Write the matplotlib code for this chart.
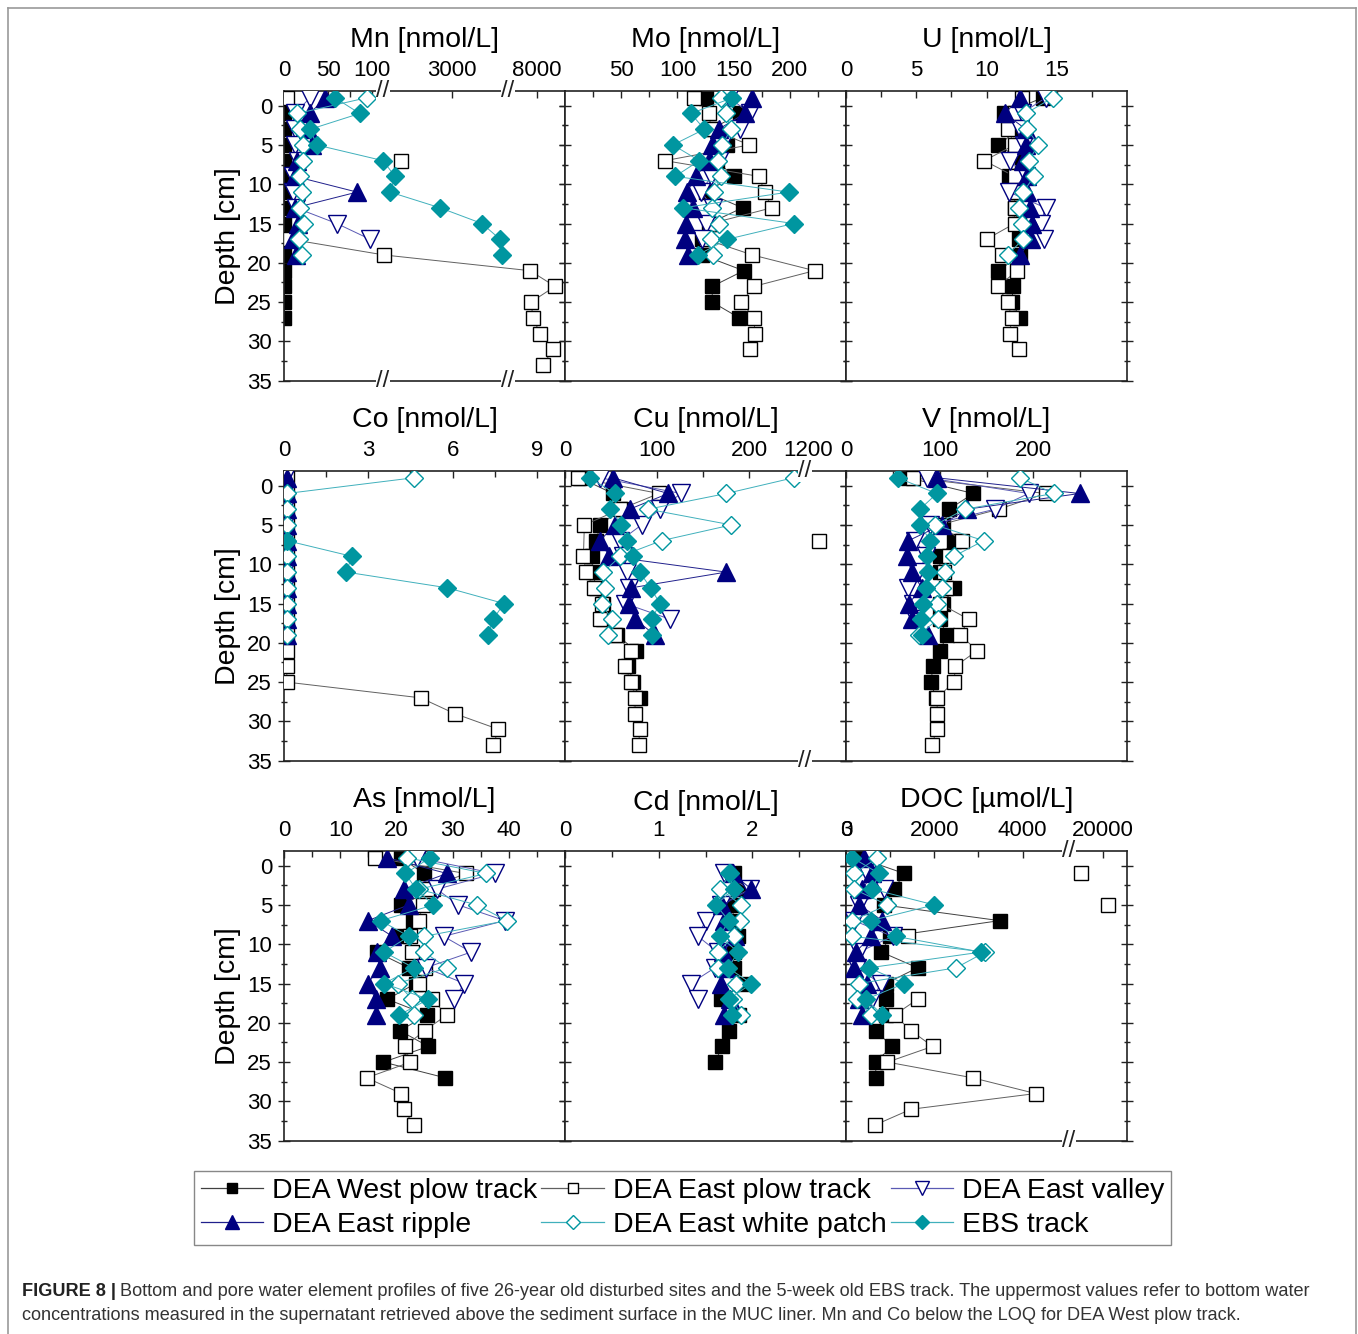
import numpy as np
import matplotlib.pyplot as plt
from matplotlib.lines import Line2D
from matplotlib.ticker import MultipleLocator

nan = np.nan

# sampling depths (cm) of each site, -1 = supernatant bottom water
depth_west = [-1, 1, 3, 5, 7, 9, 11, 13, 15, 17, 19, 21, 23, 25, 27]
depth_east = [-1, 1, 3, 5, 7, 9, 11, 13, 15, 17, 19, 21, 23, 25, 27, 29, 31, 33]
depth_valley = [-1, 1, 3, 5, 7, 9, 11, 13, 15, 17]
depth_ripple = [-1, 1, 3, 5, 7, 9, 11, 13, 15, 17, 19]
depth_white = [-1, 1, 3, 5, 7, 9, 11, 13, 15, 17, 19]
depth_ebs = [-1, 1, 3, 5, 7, 9, 11, 13, 15, 17, 19]

# Mn
mn_west = [0, 0, 0, 0, 0, 0, 0, 0, 0, 0, 0, 0, 0, 0, 0]
mn_east = [3, nan, nan, nan, 1376, nan, nan, nan, nan, 7, 830, 7772, 8649, 7807, 7877, 8123, 8579, 8228]
mn_valley = [29.5, 12.5, 12.5, 12.5, 16, 10, 10, 13.6, 60, 97.7]
mn_ripple = [46.6, 29.5, 27, 31.6, 14.5, 12.5, 83, 12.5, 16, 10, 14]
mn_white = [94, 15, 18, 22, 22, 18, 20, 18, 23, 17, 20]
mn_ebs = [58, 86, 30, 37, 700, 1184, 1024, 2624, 3968, 4544, 4600]

# Mo
mo_west = [125, 156, 130, 144.5, 135, 150, 125, 158, 128, 122, 122, 159, 131, 131, 155]
mo_east = [115, 128, 130, 164, 89, 172.6, 177.6, 184, 130, 125, 166.7, 222, 168, 157, 168, 169, 165, nan]
mo_valley = [146, 165, 156, 140, 137, 130, 121, 132, 125, 122]
mo_ripple = [166.7, 160, 136.6, 131, 128, 116.5, 108.6, 113.6, 107.7, 107, 109]
mo_white = [138.6, 143, 147.5, 140, 135.7, 138.6, 132.7, 131, 137, 129.8, 131.6]
mo_ebs = [149, 112, 124, 96, 119.5, 98, 199, 105, 203.5, 144.5, 118]

# U
u_west = [14, 11.25, 12.3, 10.85, 12.5, 11.6, 12, 12, 12.3, 12.3, 12.4, 10.85, 11.9, 11.8, 12.4]
u_east = [12.5, 12, 11.5, 12, 9.84, 12, 12, 12, 12, 10.0, 11.1, 12.2, 10.8, 11.5, 11.8, 11.65, 12.3, nan]
u_valley = [14.2, 12.5, 12.4, 12.7, 11.7, 12.8, 11.6, 14.2, 13.85, 14.1]
u_ripple = [12.4, 11.3, 12.8, 12.8, 12.6, 12.86, 12.9, 13.1, 13.26, 13.2, 12.4]
u_white = [14.7, 12.8, 12.9, 13.7, 13.0, 13.4, 12.6, 12.3, 12.5, 12.6, 11.5]
u_ebs = [nan] * 11

# Co (DEA West plow track below LOQ)
co_west = [nan] * 15
co_east = [0.1, 0.1, 0.1, 0.1, 0.1, 0.1, 0.1, 0.1, 0.1, 0.1, 0.1, 0.1, 0.1, 0.1, 4.86, 6.07, 7.63, 7.45]
co_valley = [0.05, 0.05, 0.05, 0.05, 0.05, 0.05, 0.05, 0.05, 0.05, 0.05]
co_ripple = [0.1, 0.1, 0.1, 0.1, 0.1, 0.1, 0.1, 0.1, 0.1, 0.1, 0.1]
co_white = [4.62, 0.1, 0.1, 0.1, 0.1, 0.1, 0.1, 0.1, 0.1, 0.1, 0.1]
co_ebs = [nan, nan, nan, nan, 0.1, 2.42, 2.21, 5.81, 7.83, 7.44, 7.26]

# Cu
cu_west = [16, 52, 61, 38, 34, 29, 30, 34, 41.5, 41.5, 56, 77, 68.6, 74, 81]
cu_east = [14, 102, 60, 21, 1227, 20, 23, 31, 40, 38, 54, 72, 65, 72, 76, 76, 81, 80]
cu_valley = [38, 126, 103, 83, 60, 63, 67, 69, 65, 114]
cu_ripple = [52, 112, 70, 54, 38, 48, 175, 72, 69, 76, 97.5]
cu_white = [248, 175, 90, 180.6, 104.7, 60, 41.5, 43, 39.7, 50.6, 47]
cu_ebs = [27, 54, 49, 61, 67, 74, 81, 92.8, 103, 94, 94]

# V
v_west = [66.7, 136, 110, 104, 115, 100.5, 100, 115, 104, 100, 107.7, 100.5, 93, 90.5, 96]
v_east = [71, 213, 163, 100, 123.7, 110, 105, 107, 100, 131, 122, 140, 116.6, 115.5, 97, 97.6, 97, 91.6]
v_valley = [87, 195, 159, 90, 74, 85.6, 77, 66.7, 72, 74]
v_ripple = [97, 249.5, 129, 102, 66.7, 65, 70, 81, 67, 70, 88]
v_white = [186, 221.7, 127, 95, 147, 115, 106, 102, 97, 98, 78]
v_ebs = [55, 97, 79, 79, 90, 86, 88, 85, 82, 80, 81]

# As
as_west = [20.8, 24.9, 26.6, 20.9, 23, 20.8, 16.5, 22.2, 23.4, 18.4, 25.5, 20.6, 25.7, 17.7, 28.7]
as_east = [16.2, 32.3, 25.5, 24.7, 24, 22.5, 22.8, 25, 24, 26.3, 29, 25, 21.5, 22.5, 14.7, 20.9, 21.3, 23.1]
as_valley = [23.7, 37.5, 27.2, 31, 39.3, 28.4, 33.3, 25.2, 32.1, 30.2]
as_ripple = [18.4, 29, 21.3, 22.2, 14.9, 19.3, 16.6, 17, 14.9, 16.3, 16.3]
as_white = [21.9, 36, 24, 34.3, 39.6, 24.9, 24.9, 29, 20.2, 22.8, 23.1]
as_ebs = [26, 21.6, 23.5, 26.6, 17.2, 22.2, 17.8, 23.1, 17.8, 25.7, 20.5]

# Cd
cd_west = [nan, 1.8, 1.85, 1.8, 1.79, 1.85, 1.8, 1.8, 1.9, 1.67, 1.86, 1.75, 1.68, 1.6, nan]
cd_east = [nan] * 18
cd_valley = [nan, 1.70, 1.97, 1.67, 1.50, 1.42, 1.63, 1.60, 1.34, 1.42]
cd_ripple = [nan, 1.79, 1.99, 1.68, 1.70, 1.81, 1.69, 1.72, 1.67, 1.76, 1.70]
cd_white = [nan, 1.76, 1.66, 1.88, 1.87, 1.80, 1.63, 1.63, 1.83, 1.79, 1.88]
cd_ebs = [nan, 1.75, 1.80, 1.61, 1.75, 1.65, 1.85, 1.74, 1.99, 1.75, 1.78]

# DOC
doc_west = [295, 1318, 1090, 850, 3477, 1000, 800, 1621, 900, 902, 900, 674, 1038, 674, 674]
doc_east = [nan, 17710, nan, 20564, nan, 1394, nan, nan, nan, 1621, 1100, 1470, 1962, 939, 2871, 4295, 1470, 659]
doc_valley = [598, 485, 864, 295, 182, 1053, 295, 250, 788, 598]
doc_ripple = [409, 598, 371, 300, 826, 560, 220, 182, 485, 295, 371]
doc_white = [712, 182, 182, 939, 144, 144, 3152, 2492, 295, 250, 560]
doc_ebs = [144, 750, 598, 2000, 560, 1129, 3061, 523, 1318, 455, 826]

site_labels = ['DEA West plow track', 'DEA East plow track', 'DEA East valley',
               'DEA East ripple', 'DEA East white patch', 'EBS track']
site_depths = [depth_west, depth_east, depth_valley, depth_ripple, depth_white, depth_ebs]

navy = '#000080'
teal = '#0096a0'
site_styles = [
    dict(marker='s', ms=9.5, mfc='black', mec='black', color='#404040'),
    dict(marker='s', ms=9.5, mfc='white', mec='black', color='#606060'),
    dict(marker='v', ms=12.5, mfc='white', mec=navy, color='#5a5ab4'),
    dict(marker='^', ms=12.5, mfc=navy, mec=navy, color='#20208c'),
    dict(marker='D', ms=9.5, mfc='white', mec=teal, color='#40b0bc'),
    dict(marker='D', ms=9.5, mfc=teal, mec=teal, color='#40b0bc'),
]


def broken_scale(knots_x, knots_u):
    kx = np.asarray(knots_x, float)
    ku = np.asarray(knots_u, float)

    def fwd(x):
        return np.interp(x, kx, ku)

    def inv(u):
        return np.interp(u, ku, kx)
    return fwd, inv


# title, data, xlim, major ticks, minor ticks, broken-axis knots, break positions,
# whether the connecting lines skip points beyond the last break
panels = [
    ('Mn [nmol/L]', [mn_west, mn_east, mn_valley, mn_ripple, mn_white, mn_ebs], (0, 9000),
     [0, 50, 100, 3000, 8000], [25, 75],
     ([0, 112.5, 800, 4800, 7000, 9000], [0, 99, 99.01, 224, 224.01, 281]), [400, 6000], False),
    ('Mo [nmol/L]', [mo_west, mo_east, mo_valley, mo_ripple, mo_white, mo_ebs], (0, 250),
     [50, 100, 150, 200], [25, 75, 125, 175, 225], None, [], False),
    ('U [nmol/L]', [u_west, u_east, u_valley, u_ripple, u_white, u_ebs], (0, 20),
     [0, 5, 10, 15], [2.5, 7.5, 12.5, 17.5], None, [], False),
    ('Co [nmol/L]', [co_west, co_east, co_valley, co_ripple, co_white, co_ebs], (0, 10),
     [0, 3, 6, 9], [1.5, 4.5, 7.5], None, [], False),
    ('Cu [nmol/L]', [cu_west, cu_east, cu_valley, cu_ripple, cu_white, cu_ebs], (0, 1300),
     [0, 100, 200, 1200], [50, 150, 250],
     ([0, 260, 1190, 1300], [0, 240.5, 240.51, 282]), [700], True),
    ('V [nmol/L]', [v_west, v_east, v_valley, v_ripple, v_white, v_ebs], (0, 300),
     [0, 100, 200], [50, 150, 250], None, [], False),
    ('As [nmol/L]', [as_west, as_east, as_valley, as_ripple, as_white, as_ebs], (0, 50),
     [0, 10, 20, 30, 40], [5, 15, 25, 35, 45], None, [], False),
    ('Cd [nmol/L]', [cd_west, cd_east, cd_valley, cd_ripple, cd_white, cd_ebs], (0, 3),
     [0, 1, 2, 3], [0.5, 1.5, 2.5], None, [], False),
    ('DOC [µmol/L]', [doc_west, doc_east, doc_valley, doc_ripple, doc_white, doc_ebs], (0, 22500),
     [0, 2000, 4000, 20000], [1000, 3000],
     ([0, 5045, 16500, 22500], [0, 222, 222.01, 280]), [10000], False),
]

plt.rcParams['font.family'] = ['Liberation Sans', 'DejaVu Sans']
W, H = 1358, 1334
fig = plt.figure(figsize=(W / 100, H / 100), dpi=100)

col_x = [284, 565, 846]
row_top = [90.7, 470.7, 850.7]
aw, ah = 281, 290
big = 20.5

for i, (title, data, xlim, major, minor, knots, breaks, skip_far) in enumerate(panels):
    r, c = divmod(i, 3)
    ax = fig.add_axes([col_x[c] / W, 1 - (row_top[r] + ah) / H, aw / W, ah / H])
    if knots is not None:
        ax.set_xscale('function', functions=broken_scale(*knots))

    for k, vals in enumerate(data):
        st = dict(site_styles[k])
        dep = site_depths[k]
        if skip_far:
            keep = [j for j, v in enumerate(vals) if not v > breaks[-1]]
            ax.plot([vals[j] for j in keep], [dep[j] for j in keep], lw=0.7,
                    color=st['color'], zorder=2 + k)
            st['color'] = 'none'
        ax.plot(vals, dep, lw=0.7, mew=1.0, zorder=2 + k, **st)

    ax.set_xlim(*xlim)
    ax.set_ylim(35, -1.9)
    ax.set_xticks(major)
    ax.set_xticks(minor, minor=True)
    ax.yaxis.set_major_locator(MultipleLocator(5))
    ax.yaxis.set_minor_locator(MultipleLocator(2.5))

    ax.xaxis.tick_top()
    ax.tick_params(axis='x', which='both', direction='in', top=True, bottom=False,
                   labeltop=True, labelbottom=False, labelsize=16, pad=6.7, color='#222')
    ax.tick_params(axis='x', which='major', length=5, width=1)
    ax.tick_params(axis='x', which='minor', length=4, width=1)
    ax.tick_params(axis='y', which='both', direction='inout', left=True, right=True,
                   labelleft=(c == 0), labelsize=16, pad=4.6, color='#222')
    ax.tick_params(axis='y', which='major', length=8, width=1)
    ax.tick_params(axis='y', which='minor', length=5, width=1)
    for sp in ax.spines.values():
        sp.set_linewidth(1.2)
        sp.set_color('#222')

    ty = 1.14 if title.startswith('Cd') else 1.15
    ax.text(0.5, ty, title, transform=ax.transAxes, ha='center', va='baseline', fontsize=big)

    for xb in breaks:
        for yb in (0, 1):
            ax.text(xb, yb, '//', transform=ax.get_xaxis_transform(), ha='center', va='center',
                    fontsize=17, color='#222', zorder=20, clip_on=False,
                    bbox=dict(facecolor='white', edgecolor='none', pad=0.2))

for r in range(3):
    fig.text(228 / W, 1 - (row_top[r] + ah / 2) / H, 'Depth [cm]', rotation=90,
             ha='center', va='center', fontsize=big)

# legend, filled column by column
handles = [Line2D([], [], lw=0.9, mew=1.0, **st) for st in site_styles]
order = [0, 3, 1, 4, 2, 5]
fig.legend([handles[j] for j in order], [site_labels[j] for j in order], ncol=3,
           loc='center', bbox_to_anchor=(682.5 / W, 1 - 1208 / H), fontsize=big,
           handlelength=2.2, handletextpad=0.3, columnspacing=0.15, labelspacing=0.3,
           borderpad=0.25, markerscale=0.8, fancybox=False, framealpha=1,
           edgecolor='#888888', borderaxespad=0)

# frame around the figure
frame = dict(transform=fig.transFigure, color='#999999', lw=1.2)
fig.add_artist(Line2D([8 / W, 8 / W], [0, 1 - 8 / H], **frame))
fig.add_artist(Line2D([1356 / W, 1356 / W], [0, 1 - 8 / H], **frame))
fig.add_artist(Line2D([8 / W, 1356 / W], [1 - 8 / H, 1 - 8 / H], **frame))

# caption
cap_font = ['Liberation Sans Narrow', 'Liberation Sans', 'DejaVu Sans']
cap_size = 13.1
t1 = fig.text(22 / W, 1 - 1291 / H, 'FIGURE 8 |', fontsize=cap_size, fontweight='bold',
              family=cap_font, color='#222222', va='center')
fig.canvas.draw()
bb = t1.get_window_extent(renderer=fig.canvas.get_renderer())
fig.text((bb.x1 + 4) / W, 1 - 1291 / H,
         'Bottom and pore water element profiles of five 26-year old disturbed sites and the '
         '5-week old EBS track. The uppermost values refer to bottom water',
         fontsize=cap_size, family=cap_font, color='#333333', va='center')
fig.text(22 / W, 1 - 1315 / H,
         'concentrations measured in the supernatant retrieved above the sediment surface in '
         'the MUC liner. Mn and Co below the LOQ for DEA West plow track.',
         fontsize=cap_size, family=cap_font, color='#333333', va='center')

fig.savefig('out.png', dpi=100)
